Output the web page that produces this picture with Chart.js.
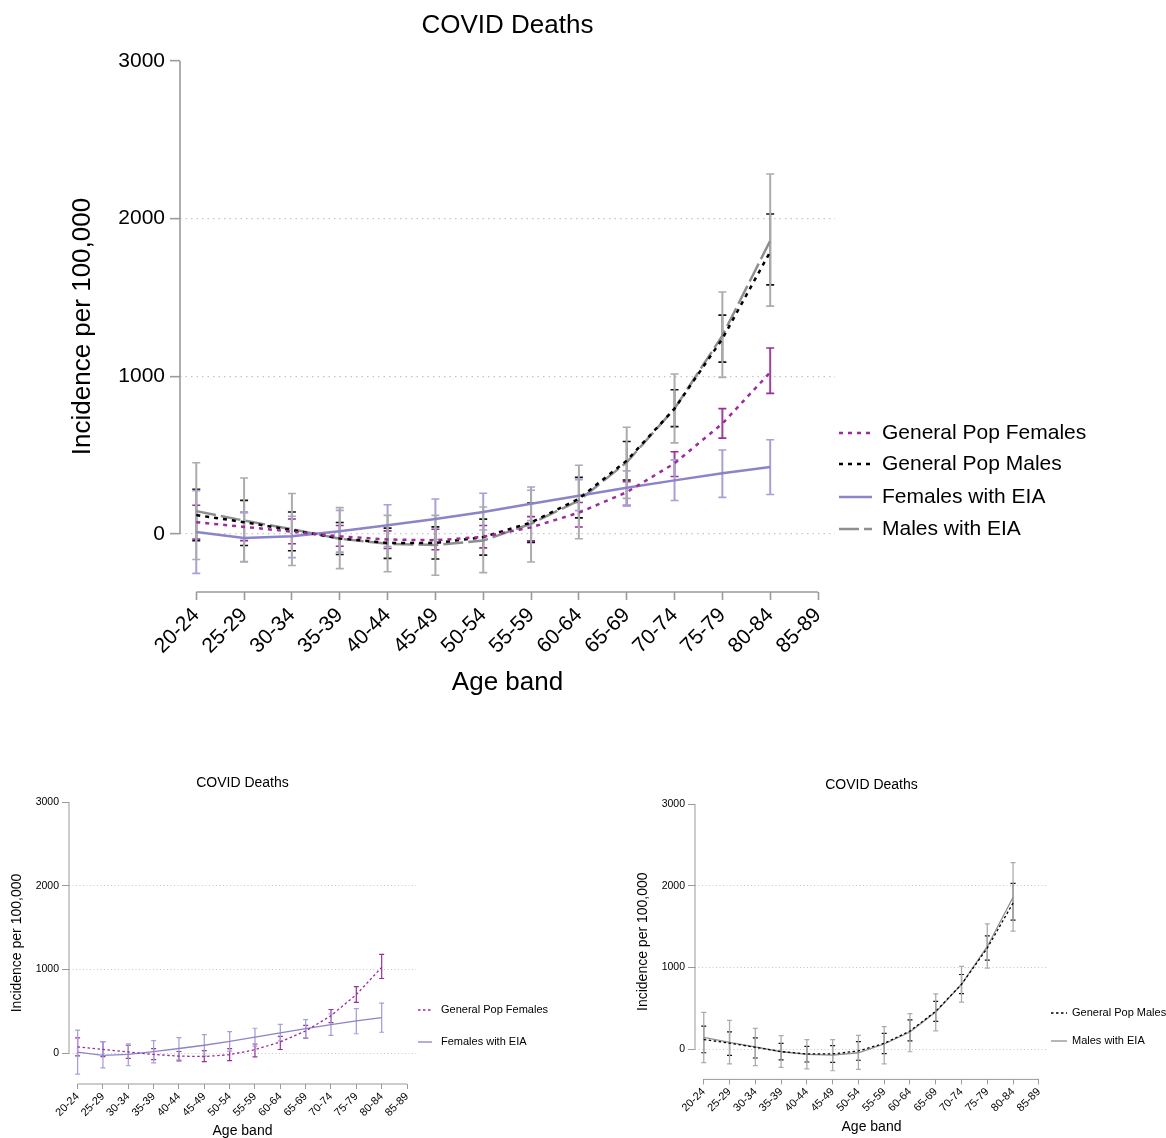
<!DOCTYPE html>
<html><head><meta charset="utf-8">
<script src="https://cdn.jsdelivr.net/npm/chart.js@4/dist/chart.umd.min.js"></script>
<style>
html,body{margin:0;padding:0;background:#fff;width:1166px;height:1138px;overflow:hidden}
.box{position:absolute}
canvas{display:block}
</style></head><body>
<div class="box" style="left:0;top:0"><canvas id="main" width="1166" height="720"></canvas></div>
<div class="box" style="left:0;top:760px"><canvas id="fem" width="583" height="378"></canvas></div>
<div class="box" style="left:583px;top:760px"><canvas id="mal" width="583" height="378"></canvas></div>
<script>
// ---- data ----
const ageBands = ['20-24','25-29','30-34','35-39','40-44','45-49','50-54','55-59','60-64','65-69','70-74','75-79','80-84','85-89'];
const yTicks = [0, 1000, 2000, 3000];

const gpFemales     = [75, 45, 15, -15, -35, -40, -18, 42, 135, 265, 448, 700, 1025];
const gpFemalesLow  = [-32, -42, -62, -78, -92, -100, -88, -44, 44, 180, 365, 608, 892];
const gpFemalesHigh = [182, 137, 95, 54, 20, 30, 54, 110, 200, 332, 522, 795, 1180];

const gpMales     = [120, 75, 25, -28, -57, -57, -20, 73, 224, 465, 795, 1238, 1790];
const gpMalesLow  = [-42, -73, -106, -130, -155, -159, -134, -53, 102, 342, 681, 1090, 1580];
const gpMalesHigh = [284, 213, 139, 73, 37, 45, 94, 196, 359, 587, 915, 1388, 2030];

const femEIA     = [12, -25, -15, 18, 56, 95, 140, 192, 243, 293, 340, 385, 425];
const femEIALow  = [-250, -175, -150, -115, -80, -35, 25, 85, 148, 183, 212, 232, 250];
const femEIAHigh = [275, 137, 112, 150, 185, 222, 258, 298, 345, 400, 470, 533, 598];

const maleEIA     = [145, 85, 30, -30, -62, -70, -42, 65, 212, 455, 795, 1258, 1860];
const maleEIALow  = [-162, -178, -200, -220, -240, -262, -245, -178, -30, 226, 578, 993, 1445];
const maleEIAHigh = [452, 355, 257, 167, 118, 118, 171, 277, 436, 677, 1015, 1535, 2283];

const chartTitle = 'COVID Deaths';
const xTitle = 'Age band';
const yTitle = 'Incidence per 100,000';

// ---- styling / plugins ----
const FONT = "'Liberation Sans', Arial, Helvetica, sans-serif";
const Y_MIN = -368, X_MIN = -0.34, X_MAX = 13.355;
const AXIS = '#9a9a9a';

const errorBarPlugin = {
  id: 'errorBars',
  beforeDatasetsDraw(chart, args, opts) {
    const {ctx, scales: {x, y}} = chart;
    ctx.save();
    chart.data.datasets.forEach(ds => {
      if (!ds.errLow) return;
      ds.errLow.forEach((lo, i) => {
        const hi = ds.errHigh[i];
        const px = x.getPixelForValue(i);
        const pl = y.getPixelForValue(lo), ph = y.getPixelForValue(hi);
        ctx.setLineDash([]);
        ctx.strokeStyle = ds.errColor; ctx.lineWidth = ds.errWidth;
        ctx.beginPath(); ctx.moveTo(px, pl); ctx.lineTo(px, ph); ctx.stroke();
        ctx.strokeStyle = ds.capColor; ctx.lineWidth = opts.capWidth;
        ctx.beginPath();
        ctx.moveTo(px - opts.cap, pl); ctx.lineTo(px + opts.cap, pl);
        ctx.moveTo(px - opts.cap, ph); ctx.lineTo(px + opts.cap, ph);
        ctx.stroke();
      });
    });
    ctx.restore();
  }
};

const axesPlugin = {
  id: 'stataAxes',
  beforeDatasetsDraw(chart, args, opts) {
    const {ctx, chartArea, scales: {x, y}} = chart;
    ctx.save();
    ctx.setLineDash([]);
    ctx.strokeStyle = opts.color; ctx.lineWidth = opts.width;
    ctx.beginPath();
    ctx.moveTo(chartArea.left, y.getPixelForValue(yTicks[yTicks.length - 1]));
    ctx.lineTo(chartArea.left, y.getPixelForValue(yTicks[0]));
    ctx.moveTo(x.getPixelForValue(0), chartArea.bottom);
    ctx.lineTo(x.getPixelForValue(ageBands.length - 1), chartArea.bottom);
    ctx.stroke();
    ctx.restore();
  }
};

const legendPlugin = {
  id: 'customLegend',
  afterDraw(chart, args, opts) {
    const ctx = chart.ctx;
    ctx.save();
    chart.data.datasets.forEach((ds, i) => {
      const yy = opts.ys[i];
      ctx.strokeStyle = ds.borderColor; ctx.lineWidth = ds.borderWidth;
      ctx.setLineDash(ds.borderDash || []);
      ctx.beginPath(); ctx.moveTo(opts.x0, yy); ctx.lineTo(opts.x1, yy); ctx.stroke();
      ctx.setLineDash([]);
      ctx.fillStyle = '#000';
      ctx.font = opts.size + 'px ' + FONT;
      ctx.textBaseline = 'middle'; ctx.textAlign = 'left';
      ctx.fillText(ds.label, opts.tx, yy);
    });
    ctx.restore();
  }
};

function series(kind, big) {
  const lw = big ? 2.5 : 1.3, ew = big ? 2 : 1.3;
  const defs = {
    gpf: {label: 'General Pop Females', values: gpFemales, low: gpFemalesLow, high: gpFemalesHigh,
          color: '#9c2b9c', dash: big ? [4, 5] : [2.5, 2.5], errColor: '#a040a0', capColor: '#9c2b9c'},
    gpm: {label: 'General Pop Males', values: gpMales, low: gpMalesLow, high: gpMalesHigh,
          color: '#000000', dash: big ? [4, 5] : [2.5, 2.5], errColor: '#666666', capColor: '#111111'},
    feia: {label: 'Females with EIA', values: femEIA, low: femEIALow, high: femEIAHigh,
          color: '#8a84c8', dash: [], errColor: '#a6a1d8', capColor: '#a6a1d8'},
    meia: {label: 'Males with EIA', values: maleEIA, low: maleEIALow, high: maleEIAHigh,
          color: '#8e8e8e', dash: big ? [20, 5] : [], errColor: '#acacac', capColor: '#acacac'}
  };
  const s = defs[kind];
  return {
    label: s.label,
    data: s.values.map((v, i) => ({x: i, y: v})),
    borderColor: s.color, borderWidth: lw, borderDash: s.dash,
    pointRadius: 0, tension: 0, fill: false,
    errLow: s.low, errHigh: s.high, errColor: s.errColor, capColor: s.capColor, errWidth: ew
  };
}

function makeChart(id, datasets, g) {
  return new Chart(document.getElementById(id), {
    type: 'line',
    data: {datasets},
    options: {
      responsive: false, animation: false, devicePixelRatio: 1,
      layout: {padding: {left: g.padL, right: g.padR, top: 0, bottom: 0}},
      plugins: {
        legend: {display: false}, tooltip: {enabled: false},
        title: {display: true, text: chartTitle, fullSize: false, color: '#000',
          font: {family: FONT, size: g.titleSize, weight: 'normal', lineHeight: 1.2},
          padding: {top: g.titleTop, bottom: g.titleBottom}},
        errorBars: {cap: g.cap, capWidth: g.capWidth},
        stataAxes: {color: AXIS, width: g.axisWidth},
        customLegend: g.legend
      },
      scales: {
        x: {
          type: 'linear', min: X_MIN, max: X_MAX, bounds: 'data',
          afterBuildTicks: sc => { sc.ticks = ageBands.map((_, i) => ({value: i})); },
          afterFit: sc => { sc.height = g.xHeight; },
          ticks: {autoSkip: false, minRotation: 45, maxRotation: 45, padding: g.xTickPad, color: '#000',
            font: {family: FONT, size: g.xTickSize}, callback: v => ageBands[v]},
          grid: {drawOnChartArea: false, drawTicks: true, tickLength: g.xTickLen, tickColor: AXIS,
            tickWidth: g.axisWidth},
          border: {display: false},
          title: {display: true, text: xTitle, color: '#000',
            font: {family: FONT, size: g.axTitleSize, lineHeight: g.xTitleLH},
            padding: {top: 0, bottom: g.xTitlePad}}
        },
        y: {
          type: 'linear', min: Y_MIN, max: yTicks[yTicks.length - 1], bounds: 'data',
          afterBuildTicks: sc => { sc.ticks = yTicks.map(v => ({value: v})); },
          afterFit: sc => { sc.width = g.yWidth; },
          ticks: {padding: g.yTickPad, color: '#000', font: {family: FONT, size: g.yTickSize},
            callback: v => String(v)},
          grid: {
            color: c => (c.tick && c.tick.value === yTicks[yTicks.length - 1]) ? 'rgba(0,0,0,0)' : '#c6c6c6',
            lineWidth: g.gridWidth, drawTicks: true, tickLength: g.yTickLen, tickColor: AXIS,
            tickWidth: g.axisWidth, tickBorderDash: []},
          border: {display: false, dash: g.gridDash},
          title: {display: true, text: yTitle, color: '#000',
            font: {family: FONT, size: g.axTitleSize, lineHeight: 1.2},
            padding: {top: g.yTitlePad, bottom: 0}}
        }
      }
    },
    plugins: [axesPlugin, errorBarPlugin, legendPlugin]
  });
}

// main chart
makeChart('main', [series('gpf', true), series('gpm', true), series('feia', true), series('meia', true)], {
  padL: 0, padR: 331, yWidth: 180, xHeight: 128,
  titleSize: 26, titleTop: 10.4, titleBottom: 19.4,
  axTitleSize: 26, yTitlePad: 67.4, xTitlePad: 21.4, xTitleLH: 1.2,
  yTickSize: 21, yTickLen: 10, yTickPad: 5,
  xTickSize: 21, xTickLen: 8, xTickPad: 3,
  gridWidth: 1.3, gridDash: [1.5, 4], axisWidth: 1.6,
  cap: 4, capWidth: 1.6,
  legend: {x0: 839, x1: 872, tx: 882, ys: [433, 464, 497, 529], size: 21}
});

// females panel
makeChart('fem', [series('gpf', false), series('feia', false)], {
  padL: 0, padR: 167, yWidth: 69, xHeight: 54,
  titleSize: 14, titleTop: 14.6, titleBottom: 10.6,
  axTitleSize: 14, yTitlePad: 9, xTitlePad: 0, xTitleLH: 1.0,
  yTickSize: 10.5, yTickLen: 7, yTickPad: 3,
  xTickSize: 11, xTickLen: 5, xTickPad: 1,
  gridWidth: 1, gridDash: [1, 2.5], axisWidth: 1,
  cap: 2.5, capWidth: 1.2,
  legend: {x0: 418, x1: 432, tx: 441, ys: [250, 282], size: 11}
});

// males panel
makeChart('mal', [series('gpm', false), series('meia', false)], {
  padL: 40, padR: 118, yWidth: 72, xHeight: 58.6,
  titleSize: 14, titleTop: 16.6, titleBottom: 10.6,
  axTitleSize: 14, yTitlePad: 11.6, xTitlePad: 2.6, xTitleLH: 1.2,
  yTickSize: 10.5, yTickLen: 7, yTickPad: 3,
  xTickSize: 11, xTickLen: 5, xTickPad: 1,
  gridWidth: 1, gridDash: [1, 2.5], axisWidth: 1,
  cap: 2.5, capWidth: 1.2,
  legend: {x0: 468, x1: 484, tx: 489, ys: [253, 281], size: 11}
});
</script>
</body></html>
